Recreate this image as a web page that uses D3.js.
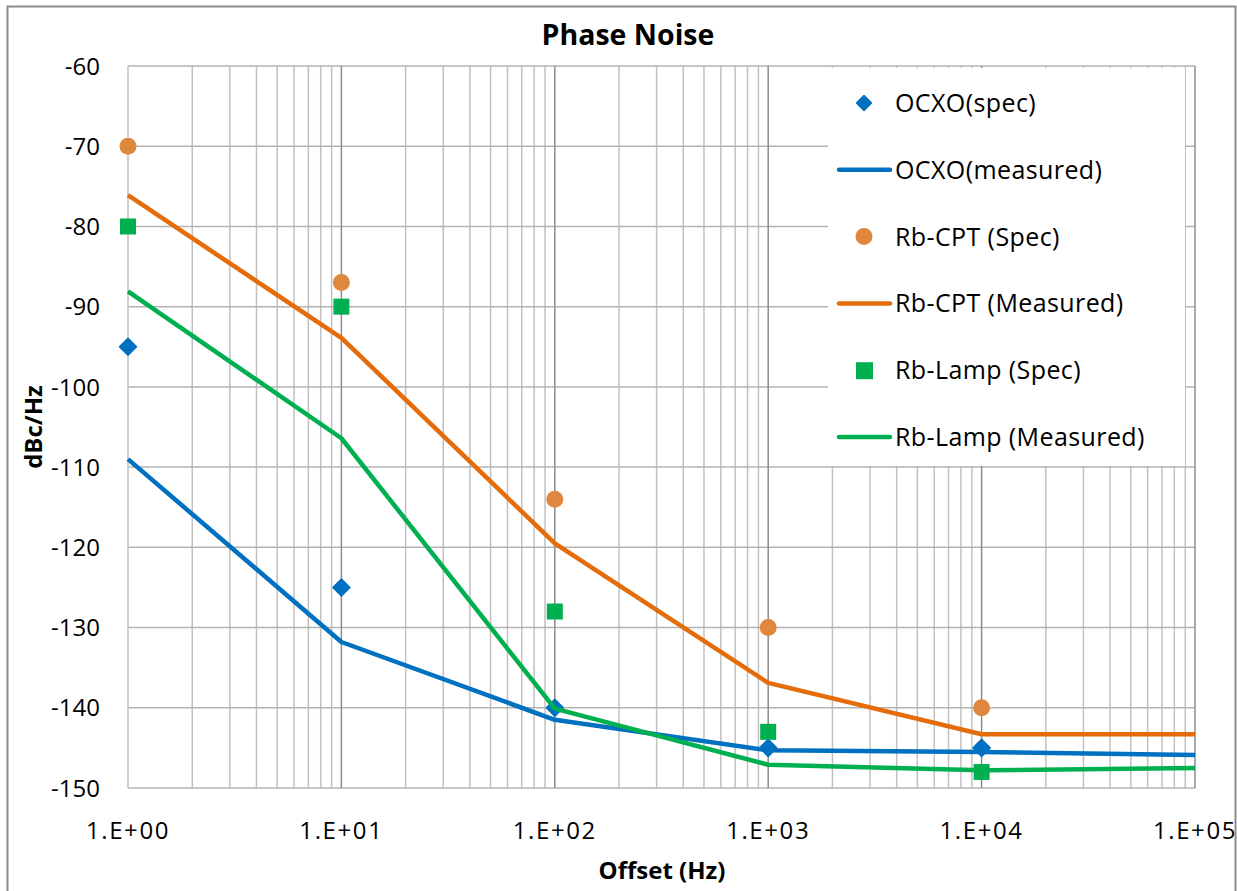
<!DOCTYPE html>
<html>
<head>
<meta charset="utf-8">
<script src="https://cdn.jsdelivr.net/npm/d3@7"></script>
<style>
  body { margin: 0; background: #fff; }
  text { font-family: "Open Sans", Lato, sans-serif; fill: #000; }
</style>
</head>
<body>
<div id="chart"></div>
<script>
// offsets (Hz) and levels (dBc/Hz)
const offsets = [1, 10, 100, 1000, 10000, 100000];
const specOffsets = [1, 10, 100, 1000, 10000];

const ocxoSpec = [-95, -125, -140, -145, -145];
const ocxoMeasured = [-109, -131.8, -141.5, -145.3, -145.5, -145.9];
const cptSpec = [-70, -87, -114, -130, -140];
const cptMeasured = [-76.1, -93.9, -119.5, -136.9, -143.3, -143.3];
const lampSpec = [-80, -90, -128, -143, -148];
const lampMeasured = [-88.1, -106.4, -140.1, -147.1, -147.8, -147.5];

const yTicks = [-60, -70, -80, -90, -100, -110, -120, -130, -140, -150];
const xTickLabels = ["1.E+00", "1.E+01", "1.E+02", "1.E+03", "1.E+04", "1.E+05"];

const W = 1237, H = 891;
const M = { LEFT: 128, RIGHT: 42, TOP: 66, BOTTOM: 103 };

const svg = d3.select("#chart").append("svg")
    .attr("width", W)
    .attr("height", H);

// outer chart border
svg.append("rect")
    .attr("x", 7.5).attr("y", 6.5)
    .attr("width", W - 9).attr("height", H + 10)
    .attr("fill", "#fff")
    .attr("stroke", "#8c8c8c")
    .attr("stroke-width", 2);

const x = d3.scaleLog().domain([1, 1e5]).range([M.LEFT, W - M.RIGHT]);
const y = d3.scaleLinear().domain([-150, -60]).range([H - M.BOTTOM, M.TOP]);

const g = svg.append("g");

// minor vertical grid
const minor = [];
for (let d = 1; d < 1e5; d *= 10) {
    for (let k = 2; k <= 9; k++) minor.push(d * k);
}
g.selectAll("line.minor")
    .data(minor)
    .enter().append("line")
    .attr("x1", d => x(d)).attr("x2", d => x(d))
    .attr("y1", y(-150)).attr("y2", y(-60))
    .attr("stroke", "#c0c0c0")
    .attr("stroke-width", 1.5);

// horizontal grid
g.selectAll("line.hgrid")
    .data(yTicks)
    .enter().append("line")
    .attr("x1", x(1)).attr("x2", x(1e5))
    .attr("y1", d => y(d)).attr("y2", d => y(d))
    .attr("stroke", "#b3b3b3")
    .attr("stroke-width", 1.5);

// major vertical grid
g.selectAll("line.major")
    .data(offsets)
    .enter().append("line")
    .attr("x1", d => x(d)).attr("x2", d => x(d))
    .attr("y1", y(-150)).attr("y2", y(-60))
    .attr("stroke", (d, i) => i === 0 ? "#c0c0c0" : "#8c8c8c")
    .attr("stroke-width", 1.5);

// y tick labels
svg.selectAll("text.ytick")
    .data(yTicks)
    .enter().append("text")
    .attr("x", 100)
    .attr("y", d => y(d))
    .attr("dy", "0.36em")
    .attr("text-anchor", "end")
    .style("font-size", "24px")
    .text(d => d);

// x tick labels
svg.selectAll("text.xtick")
    .data(offsets)
    .enter().append("text")
    .attr("x", d => x(d))
    .attr("y", 839)
    .attr("text-anchor", "middle")
    .style("font-size", "24px")
    .style("letter-spacing", "1.6px")
    .text((d, i) => xTickLabels[i]);

// titles
svg.append("text")
    .attr("x", 628).attr("y", 45)
    .attr("text-anchor", "middle")
    .style("font-size", "28.5px")
    .style("font-weight", "bold")
    .text("Phase Noise");

svg.append("text")
    .attr("x", 662).attr("y", 879)
    .attr("text-anchor", "middle")
    .style("font-size", "24px")
    .style("font-weight", "bold")
    .text("Offset (Hz)");

svg.append("text")
    .attr("transform", "translate(42,427) rotate(-90)")
    .attr("text-anchor", "middle")
    .style("font-size", "24px")
    .style("font-weight", "bold")
    .text("dBc/Hz");

const BLUE = "#0070c0", ORANGE = "#e46c0a", ORANGE_LIGHT = "#e0873f", GREEN = "#00b050";

const line = d3.line()
    .x(d => x(d[0]))
    .y(d => y(d[1]));

const diamond = s => `M0,${-s} L${s},0 L0,${s} L${-s},0 Z`;

function drawMarkers(vals, kind, color) {
    const pts = specOffsets.map((o, i) => [o, vals[i]]);
    const sel = g.selectAll(null).data(pts).enter();
    if (kind === "circle") {
        sel.append("circle")
            .attr("cx", d => x(d[0])).attr("cy", d => y(d[1]))
            .attr("r", 8.5).attr("fill", color);
    } else if (kind === "square") {
        sel.append("rect")
            .attr("x", d => x(d[0]) - 8).attr("y", d => y(d[1]) - 8)
            .attr("width", 16).attr("height", 16).attr("fill", color);
    } else {
        sel.append("path")
            .attr("transform", d => `translate(${x(d[0])},${y(d[1])})`)
            .attr("d", diamond(8.5)).attr("fill", color)
            .attr("stroke", color).attr("stroke-width", 1.5).attr("stroke-linejoin", "round");
    }
}

function drawLine(vals, color) {
    g.append("path").datum(offsets.map((o, i) => [o, vals[i]]))
        .attr("d", line).attr("fill", "none")
        .attr("stroke", color).attr("stroke-width", 4.5)
        .attr("stroke-linejoin", "round");
}

// Excel series order
drawMarkers(ocxoSpec, "diamond", BLUE);
drawLine(ocxoMeasured, BLUE);
drawMarkers(cptSpec, "circle", ORANGE_LIGHT);
drawLine(cptMeasured, ORANGE);
drawMarkers(lampSpec, "square", GREEN);
drawLine(lampMeasured, GREEN);

// legend
const legendItems = [
    { label: "OCXO(spec)", kind: "diamond", color: BLUE },
    { label: "OCXO(measured)", kind: "line", color: BLUE },
    { label: "Rb-CPT (Spec)", kind: "circle", color: ORANGE_LIGHT },
    { label: "Rb-CPT (Measured)", kind: "line", color: ORANGE },
    { label: "Rb-Lamp (Spec)", kind: "square", color: GREEN },
    { label: "Rb-Lamp (Measured)", kind: "line", color: GREEN }
];

const lg = svg.append("g").attr("transform", "translate(828,68)");
lg.append("rect").attr("width", 357).attr("height", 398).attr("fill", "#fff");

const item = lg.selectAll("g.item")
    .data(legendItems)
    .enter().append("g")
    .attr("transform", (d, i) => `translate(0,${35 + i * 66.8})`);

item.each(function(d) {
    const el = d3.select(this);
    if (d.kind === "line") {
        el.append("line").attr("x1", 11).attr("x2", 62).attr("y1", 0).attr("y2", 0)
            .attr("stroke", d.color).attr("stroke-width", 4.5).attr("stroke-linecap", "round");
    } else if (d.kind === "circle") {
        el.append("circle").attr("cx", 36).attr("cy", 0).attr("r", 8.5).attr("fill", d.color);
    } else if (d.kind === "square") {
        el.append("rect").attr("x", 28).attr("y", -8).attr("width", 17).attr("height", 17).attr("fill", d.color);
    } else {
        el.append("path").attr("transform", "translate(36,0)").attr("d", diamond(7.5))
            .attr("fill", d.color).attr("stroke", d.color).attr("stroke-width", 1.5)
            .attr("stroke-linejoin", "round");
    }
});

item.append("text")
    .attr("x", 67)
    .attr("dy", "0.36em")
    .style("font-size", "25px")
    .style("letter-spacing", "0.4px")
    .text(d => d.label);
</script>
</body>
</html>
